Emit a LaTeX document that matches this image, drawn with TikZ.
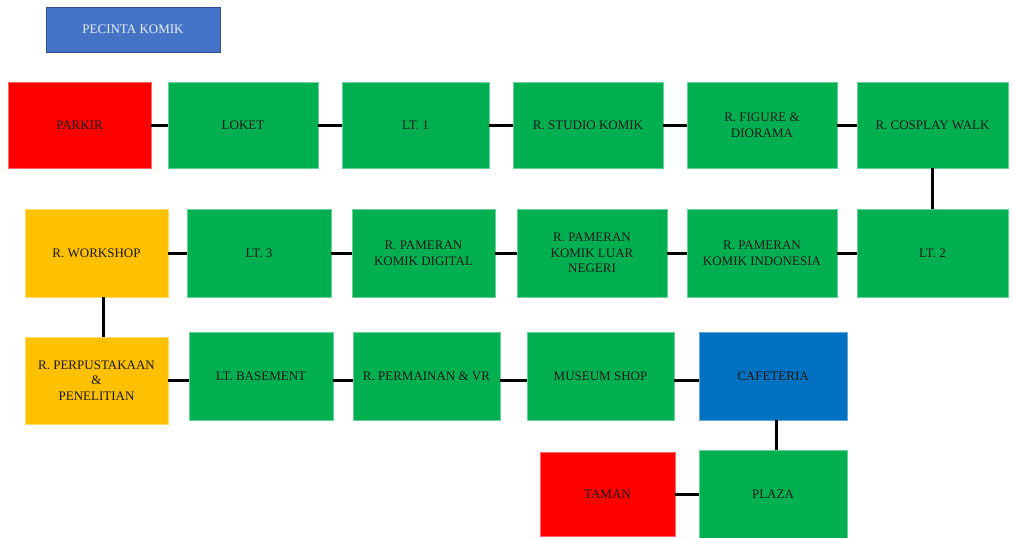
\documentclass[tikz,border=0pt]{standalone}
\usepackage{fontspec}
\setmainfont{Liberation Serif}
\definecolor{cgreen}{HTML}{00B050}
\definecolor{cred}{HTML}{FF0000}
\definecolor{cyellow}{HTML}{FFC000}
\definecolor{cblue}{HTML}{0070C0}
\definecolor{hblue}{HTML}{4472C4}
\definecolor{hborder}{HTML}{2F528F}
\begin{document}
\begin{tikzpicture}[x=1pt,y=-1pt,
  room/.style={rectangle, inner sep=0pt, outer sep=0pt, align=center,
    font=\fontsize{13}{15.7}\selectfont, text=black!90, line width=0.6pt},
  green/.style={room, fill=cgreen, draw=cgreen!60!white},
  redbox/.style={room, fill=cred, draw=cred!60!white},
  yellowbox/.style={room, fill=cyellow, draw=cyellow!60!white},
  bluebox/.style={room, fill=cblue, draw=cblue!60!white},
  link/.style={line width=3pt, black}]
\useasboundingbox (0,0) rectangle (1013,538);
% title
\node[room, fill=hblue, draw=hborder, text=white!90!hblue, minimum width=174pt, minimum height=45pt] (pecinta) at (133,29.5) {PECINTA KOMIK};
% row 1
\node[redbox, minimum width=143pt, minimum height=86pt] (parkir) at (79.5,125) {PARKIR};
\node[green, minimum width=150pt, minimum height=86pt] (loket) at (243,125) {LOKET};
\node[green, minimum width=147pt, minimum height=86pt] (lt1) at (415.5,125) {LT. 1};
\node[green, minimum width=150pt, minimum height=86pt] (studio) at (588,125) {R. STUDIO KOMIK};
\node[green, minimum width=150pt, minimum height=86pt] (figure) at (762,125) {R. FIGURE \&\\DIORAMA};
\node[green, minimum width=151pt, minimum height=86pt] (cosplay) at (932.5,125) {R. COSPLAY WALK};
% row 2
\node[green, minimum width=151pt, minimum height=88pt] (lt2) at (932.5,253) {LT. 2};
\node[green, minimum width=150pt, minimum height=88pt] (indo) at (762,253) {R. PAMERAN\\KOMIK INDONESIA};
\node[green, minimum width=150pt, minimum height=88pt] (luar) at (592,253) {R. PAMERAN\\KOMIK LUAR\\NEGERI};
\node[green, minimum width=143pt, minimum height=88pt] (digital) at (423.5,253) {R. PAMERAN\\KOMIK DIGITAL};
\node[green, minimum width=144pt, minimum height=88pt] (lt3) at (259,253) {LT. 3};
\node[yellowbox, minimum width=143pt, minimum height=88pt] (workshop) at (96.5,253) {R. WORKSHOP};
% row 3
\node[yellowbox, minimum width=143pt, minimum height=87pt] (perpus) at (96.5,380.5) {R. PERPUSTAKAAN\\\&\\PENELITIAN};
\node[green, minimum width=144pt, minimum height=88pt] (basement) at (261,376) {LT. BASEMENT};
\node[green, minimum width=147pt, minimum height=88pt] (permainan) at (426.5,376) {R. PERMAINAN \& VR};
\node[green, minimum width=147pt, minimum height=88pt] (museum) at (600.5,376) {MUSEUM SHOP};
\node[bluebox, minimum width=148pt, minimum height=88pt] (cafe) at (773,376) {CAFETERIA};
% row 4
\node[redbox, minimum width=135pt, minimum height=84pt] (taman) at (607.5,494) {TAMAN};
\node[green, minimum width=148pt, minimum height=88pt] (plaza) at (773,494) {PLAZA};
% connectors
\draw[link] (parkir.east) -- (loket.west);
\draw[link] (loket.east) -- (lt1.west);
\draw[link] (lt1.east) -- (studio.west);
\draw[link] (studio.east) -- (figure.west);
\draw[link] (figure.east) -- (cosplay.west);
\draw[link] (cosplay.south) -- (lt2.north);
\draw[link] (lt2.west) -- (indo.east);
\draw[link] (indo.west) -- (luar.east);
\draw[link] (luar.west) -- (digital.east);
\draw[link] (digital.west) -- (lt3.east);
\draw[link] (lt3.west) -- (workshop.east);
\draw[link] ([xshift=6.5pt]workshop.south) -- ([xshift=6.5pt]workshop.south |- perpus.north);
\draw[link] (perpus.east) -- (perpus.east -| basement.west);
\draw[link] ([yshift=-4pt]basement.east) -- ([yshift=-4pt]basement.east -| permainan.west);
\draw[link] ([yshift=-4pt]permainan.east) -- ([yshift=-4pt]permainan.east -| museum.west);
\draw[link] ([yshift=-4pt]museum.east) -- ([yshift=-4pt]museum.east -| cafe.west);
\draw[link] ([xshift=3pt]cafe.south) -- ([xshift=3pt]cafe.south |- plaza.north);
\draw[link] (taman.east) -- (plaza.west);
\end{tikzpicture}
\end{document}
